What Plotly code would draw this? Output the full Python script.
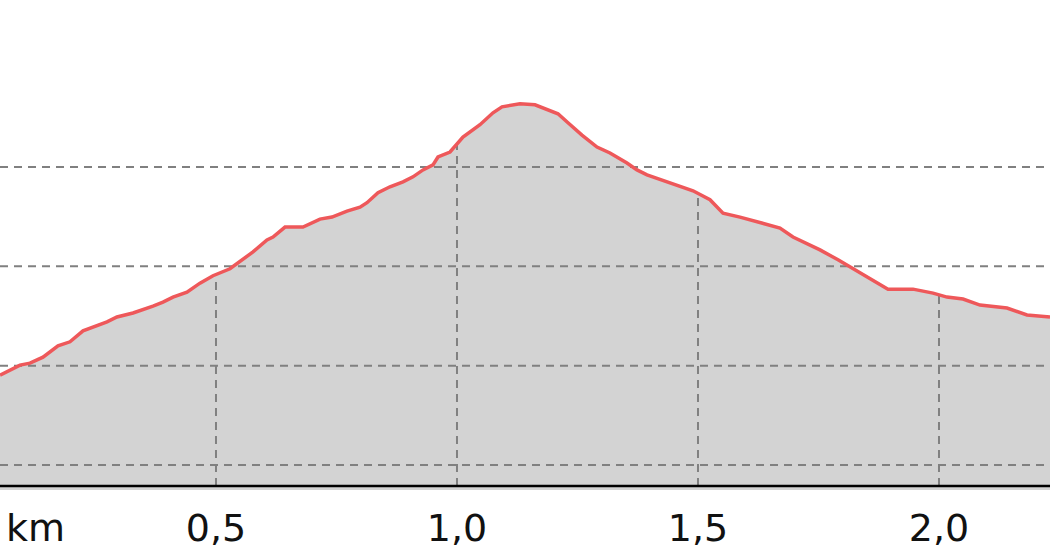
import numpy as np
import plotly.graph_objects as go

# Distance along the track (km) and elevation (m)
distance_km = [
    0.0519, 0.0934, 0.1141, 0.1411, 0.1722, 0.1971, 0.2241, 0.2531, 0.2739, 0.2946,
    0.3278, 0.3693, 0.3900, 0.4108, 0.4398, 0.4668, 0.4938, 0.5290, 0.5498, 0.5768,
    0.6058, 0.6183, 0.6432, 0.6805, 0.7158, 0.7407, 0.7718, 0.7988, 0.8133, 0.8361,
    0.8610, 0.8880, 0.9087, 0.9295, 0.9502, 0.9606, 0.9855, 1.0124, 1.0477, 1.0747,
    1.0934, 1.1307, 1.1618, 1.1867, 1.2095, 1.2303, 1.2593, 1.2905, 1.3174, 1.3527,
    1.3734, 1.3942, 1.4357, 1.4689, 1.4896, 1.5249, 1.5519, 1.5871, 1.6224, 1.6701,
    1.6971, 1.7220, 1.7531, 1.7905, 1.8216, 1.8527, 1.8776, 1.8942, 1.9461, 1.9876,
    2.0166, 2.0498, 2.0851, 2.1411, 2.1826, 2.2303,
]
elevation_m = [
    518.1, 520.1, 520.5, 521.7, 524.0, 524.8, 527.0, 528.0, 528.8, 529.8,
    530.6, 532.0, 532.8, 533.8, 534.8, 536.6, 538.1, 539.5, 540.9, 542.9,
    545.3, 545.9, 547.9, 547.9, 549.5, 549.9, 551.1, 551.9, 552.8, 554.8,
    556.0, 557.0, 558.0, 559.4, 560.4, 562.0, 563.0, 566.0, 568.5, 570.9,
    572.1, 572.7, 572.5, 571.5, 570.7, 568.9, 566.4, 564.0, 562.8, 560.8,
    559.4, 558.4, 557.0, 556.0, 555.2, 553.4, 550.7, 549.9, 548.9, 547.7,
    545.9, 544.7, 543.3, 541.3, 539.5, 537.9, 536.4, 535.4, 535.4, 534.6,
    533.8, 533.4, 532.2, 531.6, 530.2, 529.8,
]

x_tick_values = [0.5, 1.0, 1.5, 2.0]
x_tick_labels = ["0,5", "1,0", "1,5", "2,0"]
y_grid_values = [500, 520, 540, 560]

x_range = [0.0519, 2.2303]
y_range = [494.97, 593.6]
axis_base = 495.77

GRID = "rgb(128,128,128)"
DASH = "8px,6px"

fig = go.Figure()

# filled area under the profile
fig.add_trace(go.Scatter(
    x=distance_km, y=elevation_m, mode="lines",
    line=dict(width=0, color="rgba(0,0,0,0)"),
    fill="tozeroy", fillcolor="#d3d3d3", hoverinfo="skip", showlegend=False,
))

# horizontal grid lines (drawn over the fill)
for gv in y_grid_values:
    fig.add_trace(go.Scatter(
        x=x_range, y=[gv, gv], mode="lines",
        line=dict(color=GRID, width=2, dash=DASH),
        hoverinfo="skip", showlegend=False,
    ))

# vertical grid lines up to the profile
for tv in x_tick_values:
    top = float(np.interp(tv, distance_km, elevation_m))
    fig.add_trace(go.Scatter(
        x=[tv, tv], y=[axis_base, top], mode="lines",
        line=dict(color=GRID, width=2, dash=DASH),
        hoverinfo="skip", showlegend=False,
    ))

# axis base line
fig.add_trace(go.Scatter(
    x=x_range, y=[axis_base, axis_base], mode="lines",
    line=dict(color="black", width=2.5),
    hoverinfo="skip", showlegend=False,
))

# profile line
fig.add_trace(go.Scatter(
    x=distance_km, y=elevation_m, mode="lines",
    line=dict(color="rgb(238,88,90)", width=3.5),
    showlegend=False,
))

fig.update_layout(
    width=1050, height=560,
    margin=dict(l=0, r=0, t=0, b=70),
    paper_bgcolor="white", plot_bgcolor="white",
    font=dict(family="DejaVu Sans", color="black"),
    xaxis=dict(
        range=x_range, tickvals=x_tick_values, ticktext=x_tick_labels,
        showgrid=False, zeroline=False, showline=False, ticks="",
        tickfont=dict(size=38, family="DejaVu Sans", color="#111111"),
        ticklabelstandoff=12,
    ),
    yaxis=dict(
        range=y_range, showgrid=False, zeroline=False, showline=False,
        showticklabels=False, ticks="",
    ),
    annotations=[dict(
        text="km", xref="paper", yref="paper", x=35 / 1050, y=-0.077,
        xanchor="center", yanchor="middle", showarrow=False,
        font=dict(size=38, family="DejaVu Sans", color="#111111"),
    )],
)

fig.write_html(
    "out.html",
    config={"displayModeBar": False, "staticPlot": True},
    post_script="document.body.style.margin='0';document.body.style.overflow='hidden';",
)
